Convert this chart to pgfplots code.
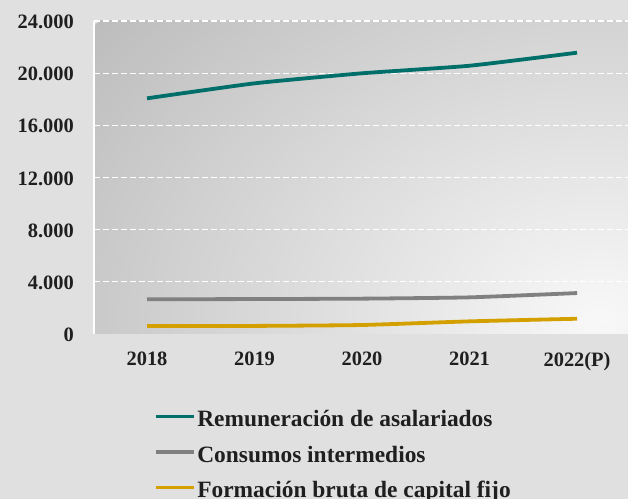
\documentclass[border=0pt]{standalone}
\usepackage{fontspec}
\setmainfont{Liberation Serif}
\usepackage{pgfplots}
\pgfplotsset{compat=1.18}
\definecolor{bgc}{HTML}{E0E0E0}
\definecolor{pgray}{HTML}{BDBDBD}
\definecolor{plight}{HTML}{F8F8F8}
\definecolor{cteal}{HTML}{006E69}
\definecolor{cgray}{HTML}{808080}
\definecolor{cgold}{HTML}{D4A000}
\begin{document}
\begin{tikzpicture}
\useasboundingbox (-94bp,-165bp) rectangle (534bp,334bp);
\fill[bgc] (-94bp,-165bp) rectangle (534bp,334bp);
\begin{scope}
\clip (0,0) rectangle (534bp,313bp);
\shade[inner color=plight, outer color=pgray] (506bp,14bp) ellipse [x radius=640bp, y radius=480bp];
\end{scope}
\begin{axis}[
  at={(0,0)}, anchor=south west,
  scale only axis, width=534bp, height=313bp,
  xmin=-0.493, xmax=4.474, ymin=0, ymax=24000,
  axis lines*=left,
  x axis line style={draw=none},
  y axis line style={white, line width=1.2bp},
  xtick={0,1,2,3,4},
  xticklabels={2018,2019,2020,2021,2022(P)},
  ytick={4000,8000,12000,16000,20000,24000},
  extra y ticks={0},
  extra y tick style={grid=none},
  major tick length=0pt,
  ymajorgrids,
  grid style={white, line width=1.3bp, dash pattern=on 6bp off 3bp},
  tick label style={font=\fontsize{20.5}{24}\selectfont\bfseries, text=black!88},
  xticklabel style={inner sep=0pt, yshift=-18bp},
  yticklabel style={inner sep=0pt, xshift=-20bp, yshift=-1bp},
  /pgf/number format/assume math mode=true,
  /pgf/number format/.cd, 1000 sep={.}, /pgfplots/.cd,
  scaled y ticks=false,
  legend cell align=left,
  legend style={at={(0.112,-0.243)}, anchor=north west, draw=none, fill=none,
    font=\fontsize{23.5}{26}\selectfont\bfseries, text=black!88,
    row sep=13bp, inner sep=0pt, nodes={inner sep=1.5bp, text height=15bp, text depth=4.5bp}},
  legend image code/.code={\draw[#1, line width=3.8bp] (0bp,5bp) -- (38bp,5bp);},
  every axis plot/.append style={line width=3.8bp, smooth, tension=0.3},
]
\addplot[cteal] coordinates {(0,18070) (1,19220) (2,19990) (3,20570) (4,21570)};
\addplot[cgray] coordinates {(0,2660) (1,2680) (2,2710) (3,2810) (4,3140)};
\addplot[cgold] coordinates {(0,610) (1,620) (2,690) (3,970) (4,1170)};
\legend{Remuneración de asalariados, Consumos intermedios, Formación bruta de capital fijo}
\end{axis}
\end{tikzpicture}
\end{document}
